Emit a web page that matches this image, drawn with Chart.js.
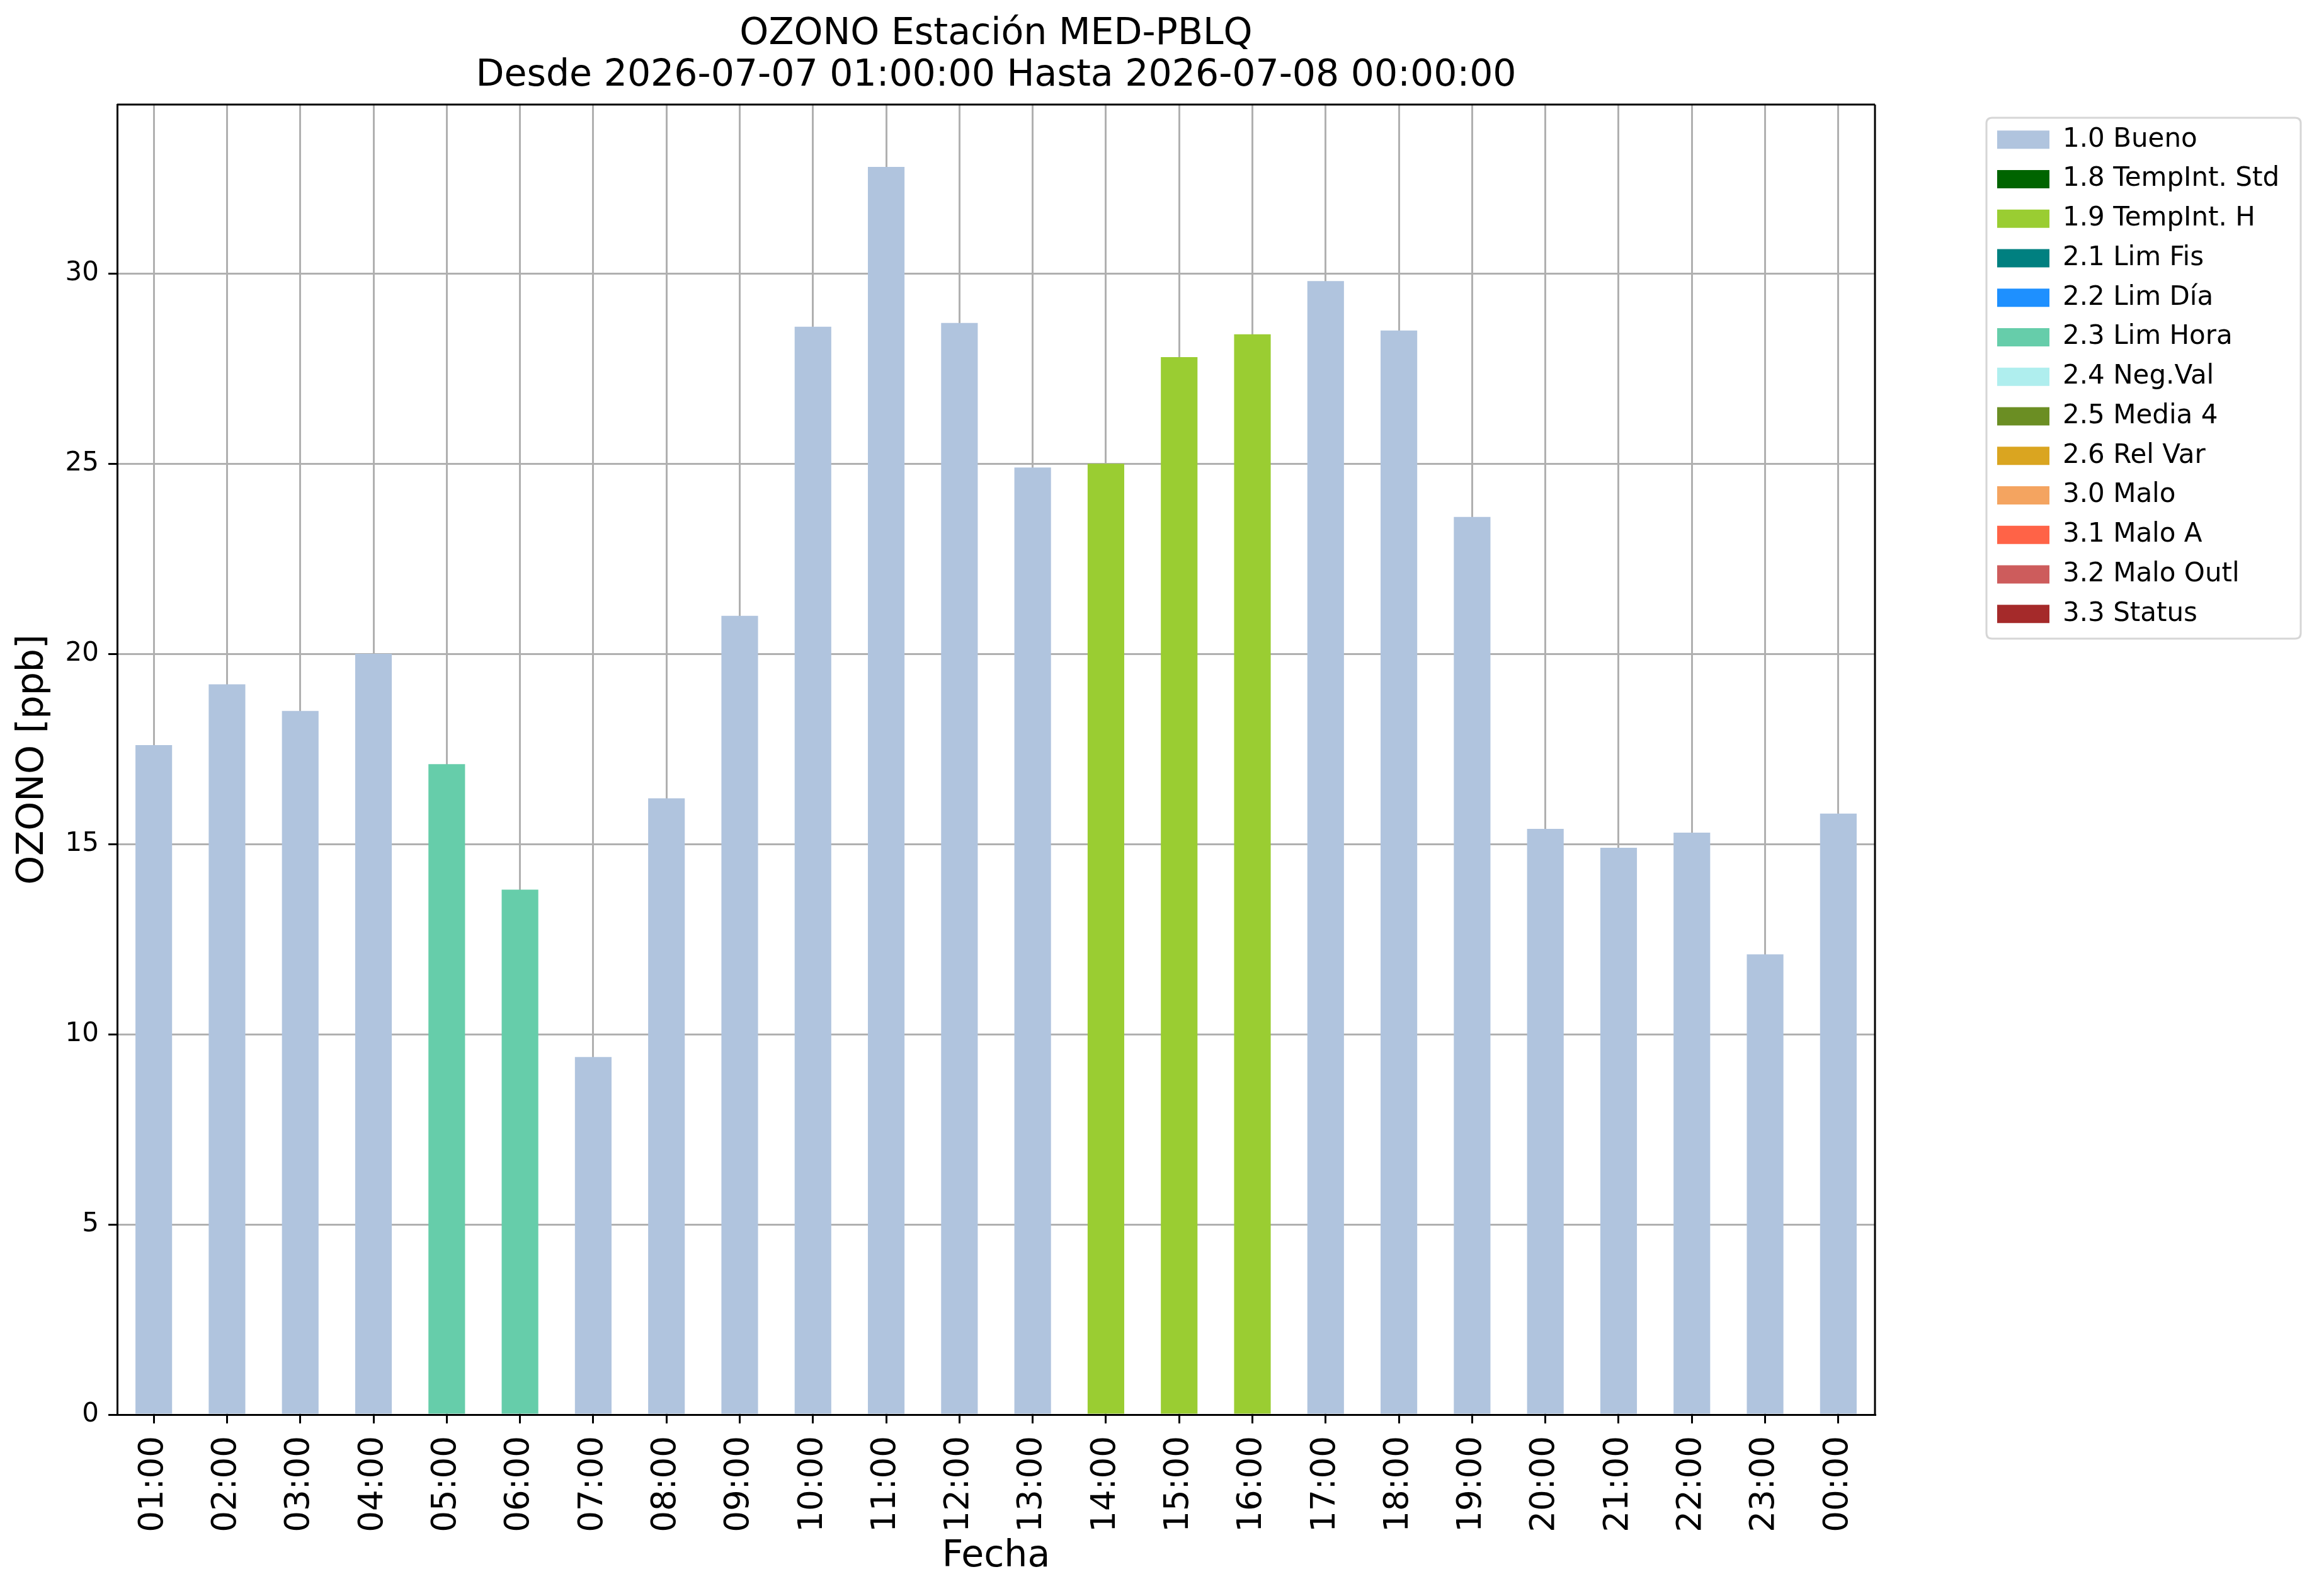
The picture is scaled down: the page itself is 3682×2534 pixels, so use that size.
<!DOCTYPE html>
<html>
<head>
<meta charset="utf-8">
<script src="https://cdn.jsdelivr.net/npm/chart.js@4"></script>
<style>
  html, body { margin: 0; padding: 0; background: #ffffff; }
  #c { display: block; }
</style>
</head>
<body>
<canvas id="c" width="3682" height="2534" style="width:3682px;height:2534px"></canvas>
<script>
// ---------- DATA ----------
const hours = ['01:00','02:00','03:00','04:00','05:00','06:00','07:00','08:00','09:00','10:00','11:00','12:00',
               '13:00','14:00','15:00','16:00','17:00','18:00','19:00','20:00','21:00','22:00','23:00','00:00'];
const ozoneValues = [17.6, 19.2, 18.5, 20.0, 17.1, 13.8, 9.4, 16.2, 21.0, 28.6, 32.8, 28.7,
                     24.9, 25.0, 27.8, 28.4, 29.8, 28.5, 23.6, 15.4, 14.9, 15.3, 12.1, 15.8];
const valueFlags = ['1.0','1.0','1.0','1.0','2.3','2.3','1.0','1.0','1.0','1.0','1.0','1.0',
                    '1.0','1.9','1.9','1.9','1.0','1.0','1.0','1.0','1.0','1.0','1.0','1.0'];
const flagCodes  = ['1.0','1.8','1.9','2.1','2.2','2.3','2.4','2.5','2.6','3.0','3.1','3.2','3.3'];
const flagNames  = ['1.0 Bueno','1.8 TempInt. Std','1.9 TempInt. H','2.1 Lim Fis','2.2 Lim Día','2.3 Lim Hora',
                    '2.4 Neg.Val','2.5 Media 4','2.6 Rel Var','3.0 Malo','3.1 Malo A','3.2 Malo Outl','3.3 Status'];
const flagColors = ['#B0C4DE','#006400','#9ACD32','#008080','#1E90FF','#66CDAA',
                    '#AFEEEE','#6B8E23','#DAA520','#F4A460','#FF6347','#CD5C5C','#A52A2A'];
const yTickStep = 5;
const titleLines = ['OZONO Estación MED-PBLQ', 'Desde 2026-07-07 01:00:00 Hasta 2026-07-08 00:00:00'];
const xTitle = 'Fecha';
const yTitle = 'OZONO [ppb]';

// ---------- CHART ----------
Chart.defaults.font.family = "'DejaVu Sans', sans-serif";
Chart.defaults.color = '#000000';

const datasets = flagCodes.map((code, k) => ({
  label: flagNames[k],
  data: ozoneValues.map((v, i) => valueFlags[i] === code ? v : null),
  backgroundColor: flagColors[k],
  borderWidth: 0,
  barPercentage: 0.5,
  categoryPercentage: 1.0
}));

const yMax = Math.max(...ozoneValues) * 1.05;

const framePlugin = {
  id: 'frame',
  beforeDraw(chart) {
    const ctx = chart.ctx;
    ctx.save();
    ctx.fillStyle = '#ffffff';
    ctx.fillRect(0, 0, chart.width, chart.height);
    // legend frame
    const x0 = 3154, y0 = 187, x1 = 3653, y1 = 1014, r = 9;
    ctx.beginPath();
    ctx.moveTo(x0 + r, y0);
    ctx.lineTo(x1 - r, y0); ctx.quadraticCurveTo(x1, y0, x1, y0 + r);
    ctx.lineTo(x1, y1 - r); ctx.quadraticCurveTo(x1, y1, x1 - r, y1);
    ctx.lineTo(x0 + r, y1); ctx.quadraticCurveTo(x0, y1, x0, y1 - r);
    ctx.lineTo(x0, y0 + r); ctx.quadraticCurveTo(x0, y0, x0 + r, y0);
    ctx.closePath();
    ctx.fillStyle = '#ffffff';
    ctx.fill();
    ctx.lineWidth = 3;
    ctx.strokeStyle = '#d6d6d6';
    ctx.stroke();
    ctx.restore();
  },
  afterLayout(chart) {
    const lg = chart.legend;
    if (lg) {
      lg.left = 3171 - 20.75;
      lg.right = chart.width;
      lg.width = lg.right - lg.left;
      lg.top = 180;
      lg.bottom = 2246;
      lg.height = lg.bottom - lg.top;
    }
  },
  afterDraw(chart) {
    const a = chart.chartArea;
    const ctx = chart.ctx;
    ctx.save();
    ctx.strokeStyle = '#000000';
    ctx.lineWidth = 3;
    ctx.beginPath();
    ctx.moveTo(a.left, a.top); ctx.lineTo(a.right, a.top);
    ctx.moveTo(a.right, a.top); ctx.lineTo(a.right, a.bottom);
    ctx.stroke();
    ctx.restore();
  }
};

new Chart(document.getElementById('c'), {
  type: 'bar',
  data: { labels: hours, datasets },
  plugins: [framePlugin],
  options: {
    responsive: false,
    animation: false,
    devicePixelRatio: 1,
    layout: { padding: { left: 0, top: 0, right: 305, bottom: 0 } },
    plugins: {
      title: {
        display: true,
        text: titleLines,
        fullSize: false,
        color: '#000000',
        font: { size: 58.5, weight: 'normal', lineHeight: 66 / 58.5 },
        padding: { top: 22, bottom: 12 }
      },
      legend: {
        display: true,
        position: 'right',
        align: 'start',
        maxWidth: 400,
        labels: {
          boxWidth: 83,
          boxHeight: 29,
          padding: 20.75,
          color: '#000000',
          font: { size: 42 }
        }
      },
      tooltip: { enabled: false }
    },
    scales: {
      x: {
        stacked: true,
        offset: true,
        z: 1,
        grid: { display: true, offset: false, color: '#b0b0b0', lineWidth: 3, tickLength: 14, tickColor: '#000000', tickWidth: 3 },
        border: { display: true, color: '#000000', width: 3 },
        ticks: { minRotation: 90, maxRotation: 90, autoSkip: false, padding: 20, color: '#000000', font: { size: 53 } },
        title: { display: true, text: xTitle, color: '#000000', font: { size: 58.5 }, padding: { top: 0, bottom: 27 } },
        afterFit(scale) { scale.height = 2534 - 2246; }
      },
      y: {
        stacked: true,
        min: 0,
        max: yMax,
        z: 1,
        grid: { display: true, color: '#b0b0b0', lineWidth: 3, tickLength: 14, tickColor: '#000000', tickWidth: 3 },
        border: { display: true, color: '#000000', width: 3 },
        ticks: { stepSize: yTickStep, includeBounds: false, padding: 15, color: '#000000', font: { size: 42 } },
        title: { display: true, text: yTitle, color: '#000000', font: { size: 58.5 }, padding: { top: 18, bottom: 0 } },
        afterFit(scale) { scale.width = 186; }
      }
    }
  }
});
</script>
</body>
</html>
